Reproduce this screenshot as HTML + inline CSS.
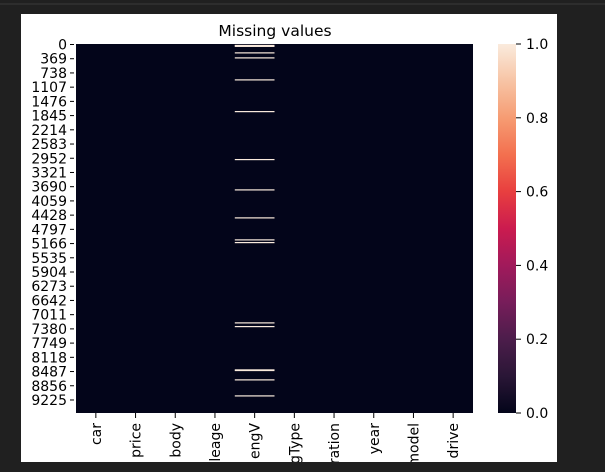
<!DOCTYPE html>
<html><head><meta charset="utf-8"><style>
html,body{margin:0;background:#202020;width:605px;height:472px;overflow:hidden}
svg{display:block;overflow:hidden;font-family:"DejaVu Sans","Liberation Sans",sans-serif}
</style></head><body>
<svg id="chart" width="605" height="472">
<defs>
<linearGradient id="rocket" x1="0" y1="1" x2="0" y2="0">
<stop offset="0" stop-color="#03051a"/><stop offset="0.1" stop-color="#2a1636"/>
<stop offset="0.2" stop-color="#4c1d4b"/><stop offset="0.3" stop-color="#771d5a"/>
<stop offset="0.4" stop-color="#a11a5b"/><stop offset="0.5" stop-color="#cb1b4f"/>
<stop offset="0.6" stop-color="#e83f3f"/><stop offset="0.7" stop-color="#f3704f"/>
<stop offset="0.8" stop-color="#f69c73"/><stop offset="0.9" stop-color="#f7c4a5"/>
<stop offset="1" stop-color="#faebdd"/></linearGradient>
<clipPath id="figclip"><rect x="21" y="14" width="536" height="448"/></clipPath>
</defs>
<line x1="0" y1="4" x2="605" y2="4" stroke="#3a3a3a" stroke-width="1"/>
<rect x="21" y="14" width="536" height="448" fill="#fff"/>
<text x="275" y="36" font-size="15.5" text-anchor="middle" fill="#000">Missing values</text>
<g id="plot" clip-path="url(#figclip)"></g>
<rect x="498" y="44" width="18" height="369" fill="url(#rocket)"/>
<g id="cbar"></g>
</svg>
<script>
const columns=["car","price","body","mileage","engV","engType","registration","year","model","drive"];
const totalRows=9576;
const missingColumn="engV";
const missingRows=[22,34,46,215,345,916,1739,2984,3771,4497,5068,5138,7222,7318,8442,8458,8701,9117];
const yTicks=[0,369,738,1107,1476,1845,2214,2583,2952,3321,3690,4059,4428,4797,5166,5535,5904,6273,6642,7011,7380,7749,8118,8487,8856,9225];
const cbarTicks=[0,0.2,0.4,0.6,0.8,1.0];
const NS="http://www.w3.org/2000/svg";
const X0=76,X1=473,Y0=44,Y1=413;
const colW=(X1-X0)/columns.length;
const yScale=r=>Y0+r/totalRows*(Y1-Y0);
const xScale=i=>X0+i*colW;
const g=document.getElementById('plot');
function mk(t,a,p){const e=document.createElementNS(NS,t);for(const k in a)e.setAttribute(k,a[k]);(p||g).appendChild(e);return e;}
const hm=mk('rect',{x:X0,y:Y0,width:X1-X0,height:Y1-Y0,fill:'#03051a'});


const ci=columns.indexOf(missingColumn);
missingRows.forEach(r=>{
 const c=mk('rect',{x:xScale(ci),y:yScale(r),width:colW,height:1.2,fill:'#faebdd'});
 
 
});
yTicks.forEach(v=>{
 const y=yScale(v)+0.5;
 mk('line',{x1:70,x2:74,y1:y,y2:y,stroke:'#000','stroke-width':1});
 const t=mk('text',{x:67,y:y+5,'font-size':14,'text-anchor':'end',fill:'#000'});
 t.textContent=v;
 
 
});
columns.forEach((c,i)=>{
 const x=xScale(i)+colW/2;
 mk('line',{x1:x,x2:x,y1:413,y2:418,stroke:'#000','stroke-width':1});
 const t=mk('text',{x:0,y:0,'font-size':14,'text-anchor':'end',fill:'#000',transform:`translate(${x+5},423) rotate(-90)`});
 t.textContent=c;
 
 
});
const cb=document.getElementById('cbar');
cbarTicks.forEach(v=>{
 const y=Y1-v*(Y1-Y0);
 mk('line',{x1:516,x2:521,y1:y,y2:y,stroke:'#000','stroke-width':1},cb);
 const t=mk('text',{x:526,y:y+5,'font-size':14,fill:'#000'},cb);
 t.textContent=v.toFixed(1);
 
 
});
</script>
</body></html>
